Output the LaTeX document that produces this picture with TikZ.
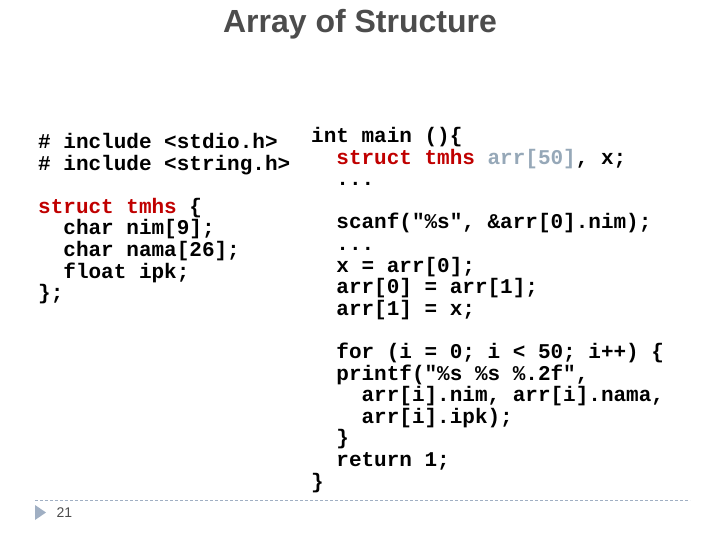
\documentclass[tikz,border=0pt]{standalone}
\usepackage{fontspec}
\setmainfont{Liberation Sans}
\newfontfamily\codefont{Liberation Mono}
\usetikzlibrary{positioning}
\definecolor{keyred}{RGB}{192,0,0}
\definecolor{arrgray}{RGB}{150,168,184}
\definecolor{linegray}{RGB}{160,175,195}
\newcommand{\ind}{\phantom{xx}}
\newcommand{\kw}[1]{\textcolor{keyred}{#1}}
\begin{document}
\begin{tikzpicture}[x=1pt,y=-1pt,
  code/.style={anchor=north west,inner sep=0pt,align=left,
    font=\codefont\bfseries\fontsize{21}{21.6}\selectfont}]
\useasboundingbox (0,0) rectangle (720,540);

\node[font=\bfseries\fontsize{32}{34}\selectfont,text=black!70] (title) at (360,24) {Array of Structure};

\node[code] (head) at (38,133) {\# include <stdio.h>\\
\# include <string.h>\\ ~\\
\kw{struct tmhs} \{\\
\ind char nim[9];\\
\ind char nama[26];\\
\ind float ipk;\\
\};};

\node[code] (body) at (311,127) {int main ()\{\\
\ind\kw{struct tmhs} \textcolor{arrgray}{arr[50]}, x;\\
\ind...\\ ~\\
\ind scanf("\%s", \&arr[0].nim);\\
\ind...\\
\ind x = arr[0];\\
\ind arr[0] = arr[1];\\
\ind arr[1] = x;\\ ~\\
\ind for (i = 0; i < 50; i++) \{\\
\ind printf("\%s \%s \%.2f",\\
\ind\ind arr[i].nim, arr[i].nama,\\
\ind\ind arr[i].ipk);\\
\ind\}\\
\ind return 1;\\
\}};

% footer
\draw[linegray,dashed,dash pattern=on 3pt off 2pt] (35,500) -- (690,500);
\fill[linegray] (35,505) -- (46,512.5) -- (35,520) -- cycle;
\node[anchor=west,font=\fontsize{14}{15}\selectfont,text=black!70] (page) at (53,513) {21};
\end{tikzpicture}
\end{document}
